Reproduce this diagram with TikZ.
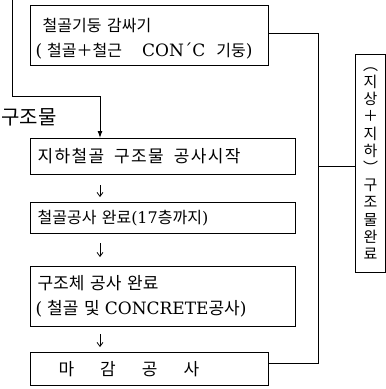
\documentclass[tikz,border=0pt]{standalone}
\usepackage{fontspec}
\setmainfont{DejaVu Serif}
\newfontfamily\kr[WordSpace=3]{Noto Sans CJK KR}
\newfontfamily\krls[LetterSpace=8]{Noto Sans CJK KR}
\usetikzlibrary{arrows.meta,calc}
\begin{document}
\begin{tikzpicture}[x=1pt,y=-1pt,
  box/.style={draw, line width=1.2pt, inner xsep=5pt, inner ysep=0pt, anchor=north west,
    align=left, font=\fontsize{17}{25}\selectfont},
  conn/.style={line width=1pt},
  sarrow/.style={line width=0.8pt, -{Straight Barb[length=4pt,width=6pt]}},
  barrow/.style={line width=1pt, -{Latex[length=7pt,width=5pt]}}]
\useasboundingbox (0,0) rectangle (386,389);
\clip (0,0) rectangle (386,389);
% boxes
\node[box, text width=228pt, minimum height=60pt] (b1) at (30,5)
  {\rule{0pt}{19pt}\hspace*{7pt}{\kr\fontsize{16}{25}\selectfont 철골기둥 감싸기}\\
   (\hspace{5pt}{\kr\fontsize{16}{25}\selectfont 철골＋철근}\hspace{20pt}CON´C\hspace{11pt}{\kr\fontsize{16}{25}\selectfont 기둥})};
\node[box, text width=255pt, minimum height=36pt] (b2) at (30,138)
  {\hspace*{2pt}{\krls\fontsize{17}{20}\selectfont 지하철골\hspace{10pt}구조물\hspace{10pt}공사시작}};
\node[box, text width=255pt, minimum height=31pt, font=\fontsize{16}{20}\selectfont] (b3) at (30,202)
  {\hspace*{2pt}{\kr 철골공사 완료}(17{\kr 층까지})};
\node[box, text width=255pt, minimum height=60pt] (b4) at (30,266)
  {\hspace*{2pt}{\kr 구조체 공사 완료}\\(\hspace{5pt}{\kr 철골 및}\hspace{5pt}CONCRETE{\kr 공사})};
\node[box, text width=228pt, minimum height=33pt] (b5) at (30,352)
  {\hspace*{23pt}{\kr 마}\hspace{26pt}{\kr 감}\hspace{26pt}{\kr 공}\hspace{26pt}{\kr 사}};
\node[draw, line width=1.2pt, anchor=north west, minimum width=30pt, minimum height=218pt,
  inner sep=0pt, align=center, font=\kr\fontsize{15}{17.2}\selectfont] (rb) at (355,54)
  {︵\\지\\상\\＋\\지\\하\\︶\\구\\조\\물\\완\\료};
% label
\node[anchor=east, inner sep=0pt, font=\kr\fontsize{20}{22}\selectfont] (lbl) at (57,117) {구조물};
% left incoming line
\coordinate (l0) at (12,-2);
\coordinate (l1) at (100,96);
\draw[barrow] (l0) |- (l1) -- (l1 |- b2.north);
% small arrows
\coordinate (ax) at (100,0);
\draw[sarrow] ($(b2.south -| ax)+(0,10)$) -- ($(b3.north -| ax)+(0,-5)$);
\draw[sarrow] ($(b3.south -| ax)+(0,9)$) -- ($(b4.north -| ax)+(0,-9)$);
\draw[sarrow] ($(b4.south -| ax)+(0,7)$) -- ($(b5.north -| ax)+(0,-5)$);
% right connectors
\coordinate (ta) at (318,33);
\coordinate (tb) at (318,363);
\coordinate (tm) at (318,166);
\draw[conn] (b1.east |- ta) -- (ta) -- (tb) -- (b5.east |- tb);
\draw[conn] (tm) -- (rb.west |- tm);
\end{tikzpicture}
\end{document}
